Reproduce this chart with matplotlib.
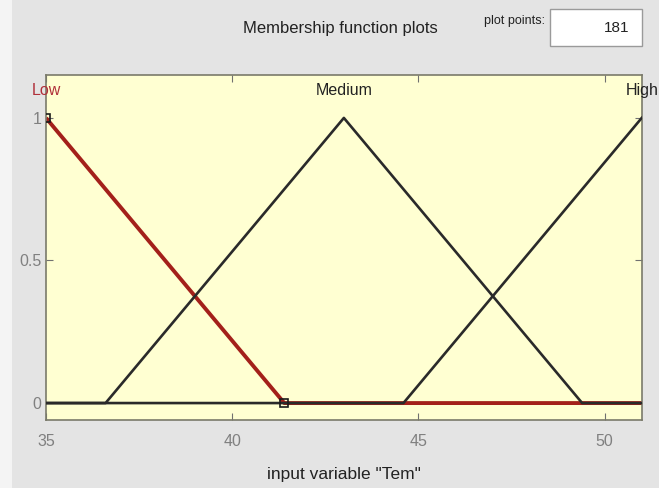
import numpy as np
import matplotlib
matplotlib.use('Agg')
import matplotlib.pyplot as plt
from matplotlib.patches import Rectangle

plt.rcParams['font.family'] = ['Liberation Sans', 'DejaVu Sans']

# ---- data: triangular membership functions for input "Tem" ----
x_range = [35, 51]
mf_names = ['Low', 'Medium', 'High']
mf_params = [[28.6, 35, 41.4], [36.6, 43, 49.4], [44.6, 51, 57.4]]
plot_points = 181
x_ticks = [35, 40, 45, 50]
y_ticks = [0, 0.5, 1]
y_tick_labels = ['0', '0.5', '1']


def trimf(x, a, b, c):
    return np.maximum(np.minimum((x - a) / (b - a), (c - x) / (c - b)), 0)


x = np.linspace(x_range[0], x_range[1], plot_points)

fig = plt.figure(figsize=(6.59, 4.88), dpi=100)
fig.patch.set_facecolor('#e4e4e4')
fig.patches.append(Rectangle((0, 0), 0.018, 1, transform=fig.transFigure,
                             facecolor='#f4f4f4', edgecolor='none', zorder=0))

ax = fig.add_axes([0.0698, 0.139, 0.904, 0.707])
ax.set_facecolor('#ffffd2')

# selected MF (Low) in red, drawn underneath the others
a, b, c = mf_params[0]
ax.plot(x, trimf(x, a, b, c), color='#a3201a', linewidth=2.8, zorder=2,
        solid_capstyle='butt')
for (a, b, c) in mf_params[1:]:
    ax.plot(x, trimf(x, a, b, c), color='#2a2a2a', linewidth=1.9, zorder=3)

# vertex markers for the selected MF
ax.plot([mf_params[0][1], mf_params[0][2]], [1, 0], linestyle='none',
        marker='s', markersize=5.5, markerfacecolor='none',
        markeredgecolor='#1a1a1a', markeredgewidth=1.2, zorder=4)

# MF name labels above the peaks
for name, p in zip(mf_names, mf_params):
    col = '#b0303a' if name == 'Low' else '#222222'
    ax.text(p[1], 1.095, name, ha='center', va='center', fontsize=11.5,
            color=col, clip_on=False)

ax.set_xlim(x_range)
ax.set_ylim(-0.06, 1.15)
ax.set_xticks(x_ticks)
ax.set_yticks(y_ticks)
ax.set_yticklabels(y_tick_labels)
ax.tick_params(direction='in', top=True, right=True, length=5,
               color='#707070', labelcolor='#808080', labelsize=11.5)
ax.tick_params(axis='x', pad=10)
for s in ax.spines.values():
    s.set_color('#7a7a6a')
    s.set_linewidth(1.2)
ax.set_xlabel('input variable "Tem"', fontsize=12.5, color='#222222',
              labelpad=13)

# header texts and plot-points box
fig.text(0.516, 0.942, 'Membership function plots', ha='center', va='center',
         fontsize=12, color='#222222')
fig.text(0.781, 0.957, 'plot points:', ha='center', va='center',
         fontsize=9, color='#222222')
fig.patches.append(Rectangle((0.834, 0.905), 0.14, 0.077,
                             transform=fig.transFigure, facecolor='white',
                             edgecolor='#9a9a9a', linewidth=1))
fig.text(0.955, 0.943, str(plot_points), ha='right', va='center',
         fontsize=11, color='#222222')

fig.savefig('out.png', dpi=100, facecolor=fig.get_facecolor())
